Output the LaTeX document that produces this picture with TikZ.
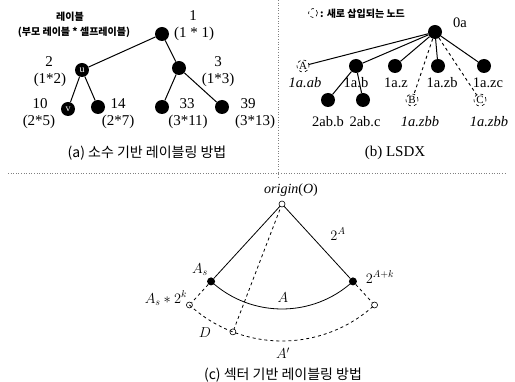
\documentclass[tikz,border=0pt]{standalone}
\usepackage{fontspec}
\setmainfont{Liberation Serif}
\newfontfamily\kr{Noto Sans CJK KR}
\begin{document}
\begin{tikzpicture}[x=1pt,y=1pt,
  dot/.style={circle,fill=black,inner sep=0pt,minimum size=14pt},
  newnode/.style={circle,draw,dashed,line width=0.6pt,inner sep=0pt,minimum size=12pt,font=\fontsize{11}{11}\selectfont},
  opt/.style={circle,draw,fill=white,line width=0.6pt,inner sep=0pt,minimum size=6pt},
  sdot/.style={circle,fill=black,inner sep=0pt,minimum size=8pt},
  edge/.style={line width=1pt},
  nedge/.style={line width=0.9pt,dashed},
  num/.style={inner sep=0pt,font=\fontsize{15}{15}\selectfont},
  blab/.style={inner sep=0pt,font=\fontsize{14.5}{14.5}\selectfont},
  ilab/.style={inner sep=0pt,font=\fontsize{14.5}{14.5}\selectfont\itshape},
  clab/.style={inner sep=0pt,font=\fontsize{14}{14}\selectfont},
  captxt/.style={inner sep=0pt,font=\kr\fontsize{14}{14}\selectfont},
  leg/.style={inner sep=0pt,font=\kr\bfseries\fontsize{10}{10}\selectfont},
  sep/.style={gray,dotted,line width=0.6pt}]
\fill[white] (0,0) rectangle (515,-382);
\useasboundingbox (0,0) rectangle (515,-382);

% separators
\draw[sep] (278,0) -- (278,-178);
\draw[sep] (8,-173) -- (505,-173);

% ---------- panel (a)
\node[leg] (lega) at (70,-17) {레이블};
\node[leg] (legb) at (74,-32) {(부모 레이블 * 셀프레이블)};
\node[dot] (r) at (162,-34) {};
\node[dot,text=white,font=\fontsize{10}{10}\selectfont] (u) at (82,-70) {u};
\node[dot] (n3) at (179,-68) {};
\node[dot,text=white,font=\fontsize{10}{10}\selectfont] (v) at (68,-109) {v};
\node[dot] (n14) at (98,-107) {};
\node[dot] (n33) at (162,-107) {};
\node[dot] (n39) at (222,-107) {};
\draw[edge] (r) -- (u);
\draw[edge] (r) -- (n3);
\draw[edge] (u) -- (v);
\draw[edge] (u) -- (n14);
\draw[edge] (n3) -- (n33);
\draw[edge] (n3) -- (n39);
\node[num] (t1) at (193,-16) {1};
\node[num] (t1b) at (194,-34) {(1 * 1)};
\node[num] (t2) at (49,-62) {2};
\node[num] (t2b) at (50,-80) {(1*2)};
\node[num] (t3) at (218,-62) {3};
\node[num] (t3b) at (218,-80) {(1*3)};
\node[num] (t10) at (40,-104) {10};
\node[num] (t10b) at (39,-122) {(2*5)};
\node[num] (t14) at (118,-104) {14};
\node[num] (t14b) at (118,-122) {(2*7)};
\node[num] (t33) at (187,-104) {33};
\node[num] (t33b) at (188,-122) {(3*11)};
\node[num] (t39) at (248,-104) {39};
\node[num] (t39b) at (255,-122) {(3*13)};
\node[captxt] (capa) at (147,-153) {(a) 소수 기반 레이블링 방법};

% ---------- panel (b)
\node[newnode,minimum size=9pt] (legc) at (313,-13) {};
\node[leg,anchor=west] (legt) at (320,-14) {: 새로 삽입되는 노드};
\node[dot] (o) at (435,-32) {};
\node[blab] (t0a) at (460,-23) {0a};
\node[newnode] (A) at (303,-66) {A};
\node[dot] (b1) at (356,-66) {};
\node[dot] (bz) at (395,-66) {};
\node[dot] (bzb) at (438,-66) {};
\node[dot] (bzc) at (484,-66) {};
\node[dot] (c1) at (328,-100) {};
\node[dot] (c2) at (363,-100) {};
\node[newnode] (B) at (412,-100) {B};
\node[newnode] (C) at (480,-100) {C};
\draw[edge] (o) -- (A);
\draw[edge] (o) -- (b1);
\draw[edge] (o) -- (bz);
\draw[edge] (o) -- (bzb);
\draw[edge] (o) -- (bzc);
\draw[nedge] (o) -- (B);
\draw[nedge] (o) -- (C);
\draw[edge] (b1) -- (c1);
\draw[edge] (b1) -- (c2);
\node[ilab] (lA) at (305,-83) {1a.ab};
\node[blab] (lb1) at (356,-83) {1a.b};
\node[blab] (lbz) at (396,-83) {1a.z};
\node[blab] (lbzb) at (442,-83) {1a.zb};
\node[blab] (lbzc) at (488,-83) {1a.zc};
\node[blab] (lc1) at (328,-122) {2ab.b};
\node[blab] (lc2) at (365,-122) {2ab.c};
\node[ilab] (lB) at (420,-122) {1a.zbb};
\node[ilab] (lC) at (489,-122) {1a.zbb};
\node[inner sep=0pt,font=\fontsize{15}{15}\selectfont] (capb) at (395,-153) {(b) LSDX};

% ---------- panel (c)
\coordinate (Oc) at (282,-204);
\node[sdot] (As) at ([shift={(Oc)}]227.5:105) {};
\node[sdot] (Ar) at ([shift={(Oc)}]312.5:105) {};
\node[opt] (Bl) at ([shift={(Oc)}]227.5:137) {};
\node[opt] (Br) at ([shift={(Oc)}]312.5:137) {};
\node[opt] (D) at ([shift={(Oc)}]249:137) {};
\draw[line width=0.8pt] ([shift={(Oc)}]227.5:105) arc[start angle=227.5,end angle=312.5,radius=105];
\draw[line width=0.8pt,dashed] ([shift={(Oc)}]227.5:137) arc[start angle=227.5,end angle=312.5,radius=137];
\draw[line width=0.8pt] (Oc) -- (As);
\draw[line width=0.8pt] (Oc) -- (Ar);
\draw[line width=0.8pt,dashed] (As) -- (Bl);
\draw[line width=0.8pt,dashed] (Ar) -- (Br);
\draw[line width=0.8pt,dashed] (Oc) -- (D);
\node[opt] (O) at (Oc) {};
\node[clab] (lO) at (291,-190) {\textit{origin}(\textit{O})};
\node[clab] (lAs) at (200,-270) {$A_s$};
\node[clab] (l2A) at (338,-234) {$2^{A}$};
\node[clab] (l2Ak) at (380,-277) {$2^{A+k}$};
\node[clab] (lAsk) at (166,-298) {$A_s * 2^{k}$};
\node[clab] (lA2) at (283,-298) {$A$};
\node[clab] (lD) at (205,-333) {$D$};
\node[clab] (lA3) at (283,-353) {$A'$};
\node[captxt] (capc) at (283,-375) {(c) 섹터 기반 레이블링 방법};
\end{tikzpicture}
\end{document}
